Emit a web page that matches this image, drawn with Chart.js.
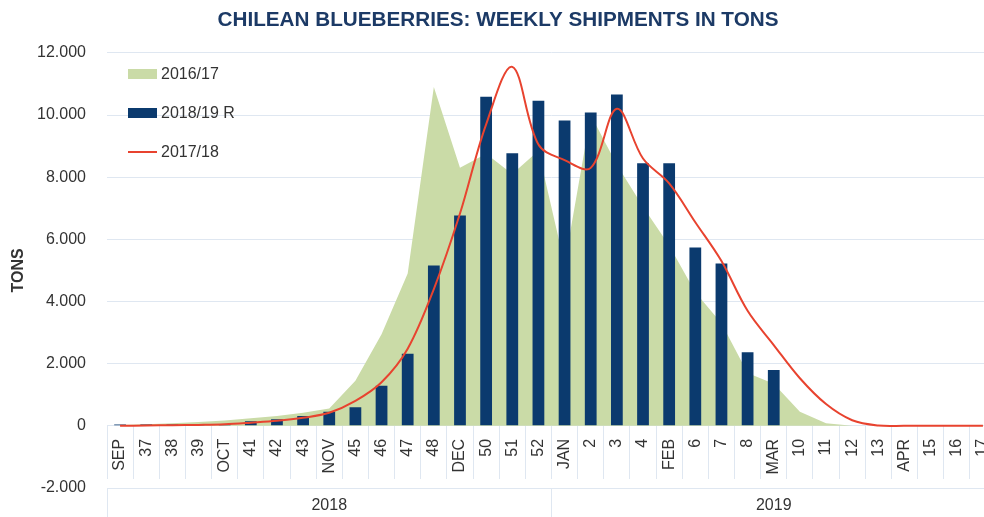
<!DOCTYPE html>
<html><head><meta charset="utf-8">
<script src="https://cdn.jsdelivr.net/npm/chart.js@4.4.1/dist/chart.umd.min.js"></script>
<style>html,body{margin:0;padding:0;overflow:hidden;background:#fff}#wrap{width:1000px;height:517px}</style>
</head><body><div id="wrap"><canvas id="c" width="1000" height="517"></canvas></div>
<script>
const categories = ['SEP','37','38','39','OCT','41','42','43','NOV','45','46','47','48','DEC','50','51','52','JAN','2','3','4','FEB','6','7','8','MAR','10','11','12','13','APR','15','16','17'];
const years = ['2018','2019'];
const season1617 = [30,50,80,120,170,240,320,420,560,1450,2950,4900,10900,8300,8750,8100,8850,5200,10000,8400,7050,5800,4300,3300,1700,1350,450,80,0,0,0,0,0,0];
const season1819R = [40,40,40,40,50,150,210,320,450,600,1290,2320,5160,6770,10590,8770,10460,9820,10080,10660,8450,8450,5740,5220,2370,1800,null,null,null,null,null,null,null,null];
const season1718 = [0,10,20,30,50,100,160,260,420,800,1400,2480,4400,6830,9700,11550,9050,8550,8300,10200,8600,7800,6550,5300,3700,2600,1530,700,180,10,0,0,0,0];
const yMin = -2000, yMax = 12000, yStep = 2000;

const FONT = '"Liberation Sans", Arial, sans-serif';
Chart.defaults.font.family = FONT;
const gridColor = '#dfe7f1';
const textColor = '#333333';

function fmt(v){
  if (v === 0) return '0';
  const a = Math.abs(v);
  return (v < 0 ? '-' : '') + Math.floor(a/1000) + '.' + String(a % 1000).padStart(3,'0');
}

const legendPlugin = {
  id: 'insideLegend',
  afterDraw(chart){
    const ctx = chart.ctx;
    const rows = [74, 113, 152];
    ctx.save();
    ctx.font = '16px ' + FONT;
    ctx.textBaseline = 'middle';
    chart.data.datasets.forEach((ds, k) => {
      const y = rows[k];
      if (ds.type === 'line' && !ds.fill) {
        ctx.strokeStyle = ds.borderColor; ctx.lineWidth = 2;
        ctx.beginPath(); ctx.moveTo(128, y); ctx.lineTo(157, y); ctx.stroke();
      } else {
        ctx.fillStyle = ds.backgroundColor;
        ctx.fillRect(128, y - 5, 29, 10);
      }
      ctx.fillStyle = textColor;
      ctx.fillText(ds.label, 161, y + 1);
    });
    ctx.restore();
  }
};

new Chart(document.getElementById('c'), {
  type: 'bar',
  data: {
    labels: categories,
    datasets: [
      { type: 'line', label: '2016/17', data: season1617, xAxisID: 'x', backgroundColor: '#cadba7', borderWidth: 0, pointRadius: 0, fill: 'origin', tension: 0, order: 3 },
      { type: 'bar', label: '2018/19 R', data: season1819R, xAxisID: 'x', backgroundColor: '#0b3a6e', borderWidth: 0, barPercentage: 0.45, categoryPercentage: 1.0, order: 2 },
      { type: 'line', label: '2017/18', data: season1718, xAxisID: 'x', borderColor: '#e8432f', borderWidth: 2, pointRadius: 0, fill: false, tension: 0.35, order: 1 }
    ]
  },
  options: {
    responsive: false,
    animation: false,
    layout: { padding: { left: 0, right: 4, top: 0, bottom: 0 } },
    plugins: {
      legend: { display: false },
      tooltip: { enabled: false },
      title: { display: true, text: 'CHILEAN BLUEBERRIES: WEEKLY SHIPMENTS IN TONS', color: '#1c3a66',
        font: { family: FONT, size: 20.7, weight: 'bold' }, padding: { top: 8, bottom: 20 } }
    },
    scales: {
      x: {
        type: 'category', position: { y: 0 }, offset: true,
        grid: { display: true, drawOnChartArea: false, drawTicks: true, tickLength: 53, offset: true, color: gridColor },
        border: { display: false },
        ticks: { autoSkip: false, minRotation: 90, maxRotation: 90, padding: -40, color: textColor, font: { size: 16 } },
        afterFit(s){ s.paddingLeft = 0; s.paddingRight = 0; }
      },
      year: {
        type: 'category', axis: 'x', position: 'bottom', labels: years, offset: true,
        grid: { display: true, drawOnChartArea: false, drawTicks: true, tickLength: 30, offset: true, color: gridColor },
        border: { display: false },
        ticks: { autoSkip: false, maxRotation: 0, padding: -21.6, color: textColor, font: { size: 16 } },
        afterFit(s){ s.height = 29; s.paddingLeft = 0; s.paddingRight = 0; }
      },
      y: {
        min: yMin, max: yMax,
        ticks: { stepSize: yStep, padding: 21, callback: fmt, color: textColor, font: { size: 16 } },
        grid: { color: gridColor, drawTicks: false },
        border: { display: false },
        title: { display: true, text: 'TONS', color: textColor, font: { size: 16, weight: 'bold' }, padding: { top: 9, bottom: 0 } },
        afterFit(s){ s.width = 107; s.paddingTop = 0; s.paddingBottom = 0; }
      }
    }
  },
  plugins: [legendPlugin]
});
</script>
</body></html>
